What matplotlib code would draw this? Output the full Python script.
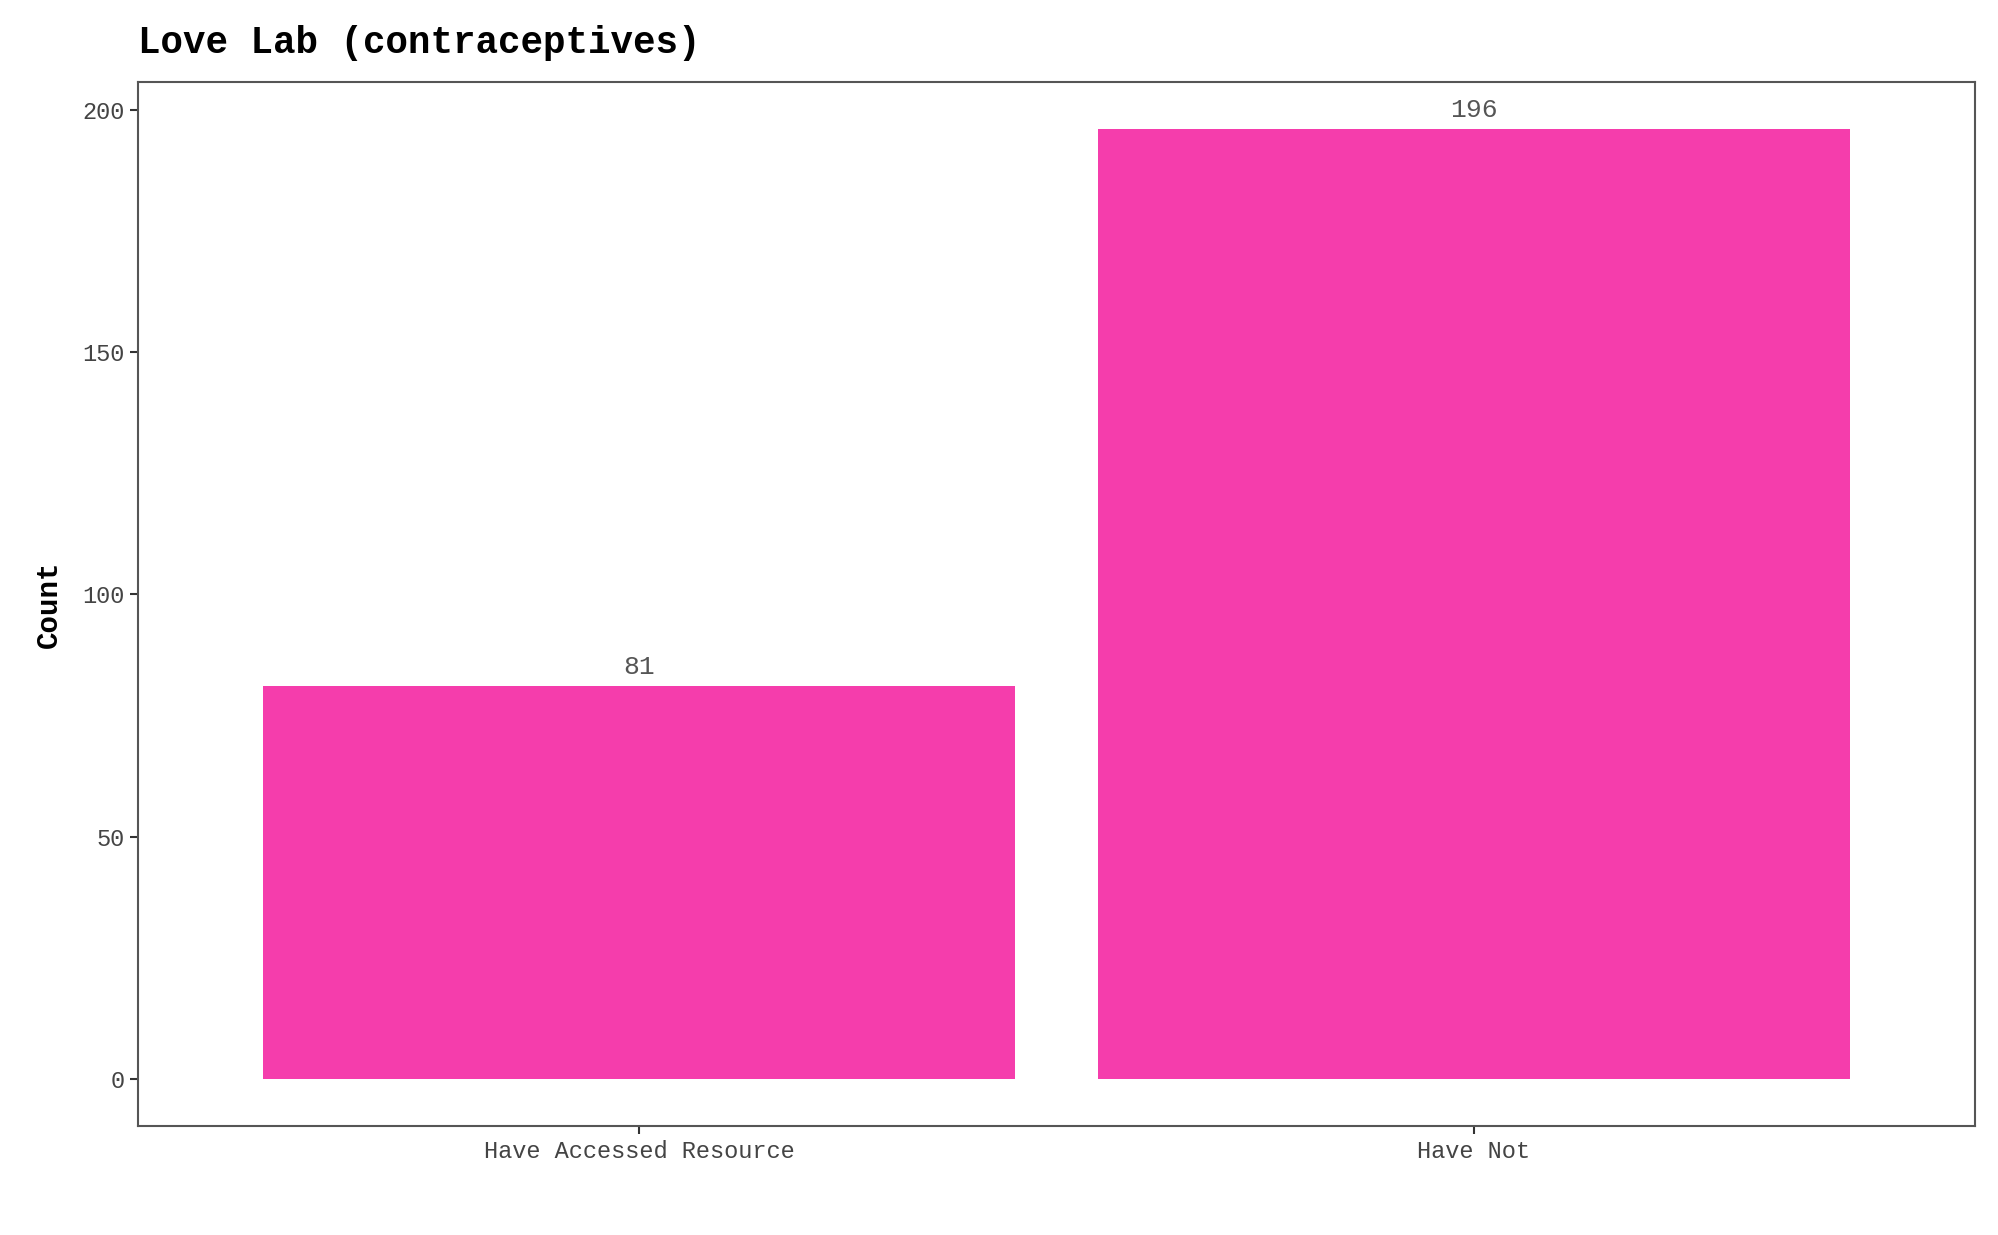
import matplotlib.pyplot as plt

categories = ["Have Accessed Resource", "Have Not"]
counts = [81, 196]

plt.rcParams['font.family'] = ['Liberation Mono', 'DejaVu Sans Mono']

fig = plt.figure(figsize=(19.99, 12.35), dpi=100)
ax = fig.add_axes([0.069, 0.088, 0.919, 0.846])

x = [1, 2]
bars = ax.bar(x, counts, width=0.9, color="#F53DAC")
for xi, c in zip(x, counts):
    ax.text(xi, c + 1.5, str(c), ha="center", va="bottom", fontsize=19, color="#555555")

ax.set_xlim(0.4, 2.6)
ax.set_ylim(-9.8, 205.8)
ax.set_xticks(x)
ax.set_xticklabels(categories)
ax.set_yticks([0, 50, 100, 150, 200])
ax.tick_params(labelsize=17, colors="#333333", length=6, width=1.5, labelcolor="#444444")
ax.set_ylabel("Count", fontsize=21, fontweight="bold", labelpad=14)
for s in ax.spines.values():
    s.set_color("#555555")
    s.set_linewidth(1.5)

fig.text(0.069, 0.965, "Love Lab (contraceptives)", fontsize=27, fontweight="bold", ha="left", va="center")

fig.savefig("out.png", dpi=100)
